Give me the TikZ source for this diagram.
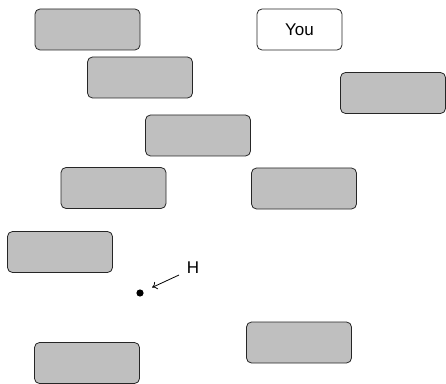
\documentclass[tikz,border=0pt]{standalone}
\usepackage{fontspec}
\setmainfont{Liberation Sans}
\usetikzlibrary{arrows.meta}
\begin{document}
\begin{tikzpicture}[x=1pt,y=1pt,
  gbox/.style={draw=black!85,line width=0.8pt,rounded corners=5pt,fill=gray!50,minimum width=105pt,minimum height=41pt,inner sep=0pt},
  wbox/.style={draw=black!85,line width=0.8pt,rounded corners=5pt,fill=white,minimum width=85pt,minimum height=41pt,inner sep=0pt,font=\fontsize{17}{20}\selectfont}]
\useasboundingbox (0,0) rectangle (446,383);
\node[gbox] (b1) at (87.5,353.5) {};
\node[wbox] (you) at (299.5,353.5) {You};
\node[gbox] (b3) at (140,305.5) {};
\node[gbox] (b4) at (393,290) {};
\node[gbox] (b5) at (198,247.5) {};
\node[gbox] (b6) at (113.5,195) {};
\node[gbox] (b7) at (304,194.5) {};
\node[gbox] (b8) at (60,131) {};
\node[gbox] (b9) at (299,40.5) {};
\node[gbox] (b10) at (87,20) {};
\fill (140,90) circle (3.6pt) coordinate (dot);
\node[font=\fontsize{17}{20}\selectfont,inner sep=1pt] (h) at (193,115) {H};
\coordinate (hs) at (179,108);
\coordinate (he) at (152,95.5);
\draw[-{To[length=5pt,width=8pt]},line width=0.8pt] (hs) -- (he);
\end{tikzpicture}
\end{document}
